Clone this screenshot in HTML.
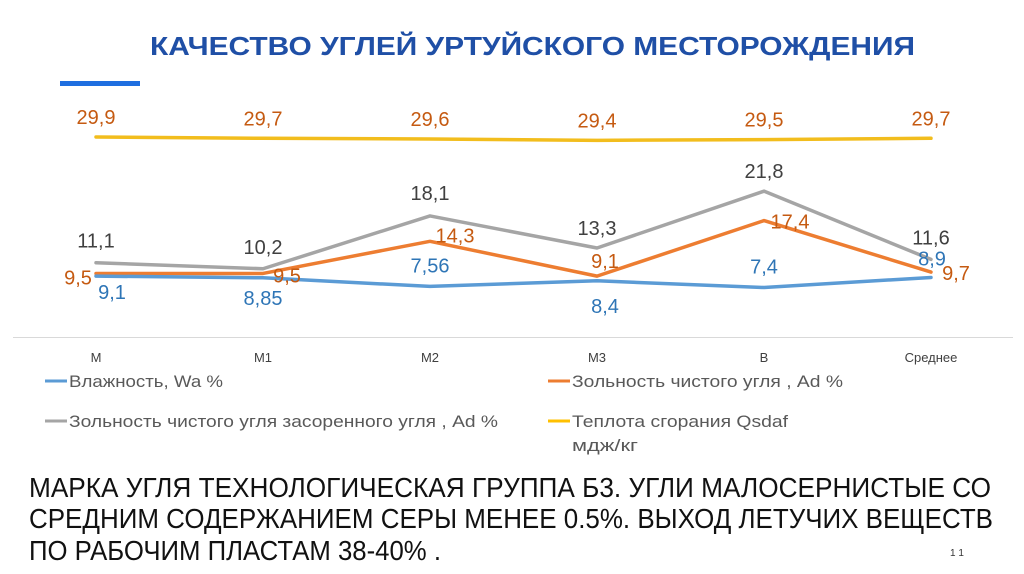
<!DOCTYPE html>
<html><head><meta charset="utf-8"><style>
html,body{margin:0;padding:0;background:#fff;}
svg{display:block;font-family:"Liberation Sans","DejaVu Sans",sans-serif;}
</style></head><body>
<svg id="chart" width="1024" height="574" viewBox="0 0 1024 574">
<text x="150" y="55" font-size="26" font-weight="bold" fill="#1f4fa6" textLength="765" lengthAdjust="spacingAndGlyphs">КАЧЕСТВО УГЛЕЙ УРТУЙСКОГО МЕСТОРОЖДЕНИЯ</text>
<rect x="60" y="81" width="80" height="5" fill="#1f6fe0"/>
<line x1="13" y1="337.5" x2="1013" y2="337.5" stroke="#d9d9d9" stroke-width="1"/>
<g id="series"></g>
<g id="cats"></g>
<g font-size="17" fill="#595959">
 <g><line x1="45" y1="381" x2="67" y2="381" stroke="#5b9bd5" stroke-width="3"/><text x="69" y="387" textLength="154" lengthAdjust="spacingAndGlyphs">Влажность, Wa %</text></g>
 <g><line x1="548" y1="381" x2="570" y2="381" stroke="#ed7d31" stroke-width="3"/><text x="572" y="387" textLength="271" lengthAdjust="spacingAndGlyphs">Зольность чистого угля , Ad %</text></g>
 <g><line x1="45" y1="421" x2="67" y2="421" stroke="#a5a5a5" stroke-width="3"/><text x="69" y="427" textLength="429" lengthAdjust="spacingAndGlyphs">Зольность чистого угля засоренного угля , Ad %</text></g>
 <g><line x1="548" y1="421" x2="570" y2="421" stroke="#ffc000" stroke-width="3"/><text x="572" y="427" textLength="216" lengthAdjust="spacingAndGlyphs">Теплота сгорания Qsdaf</text><text x="572" y="451" textLength="66" lengthAdjust="spacingAndGlyphs">мдж/кг</text></g>
</g>
<g font-size="28" fill="#111">
 <text x="29" y="497" textLength="962" lengthAdjust="spacingAndGlyphs">МАРКА УГЛЯ ТЕХНОЛОГИЧЕСКАЯ ГРУППА Б3. УГЛИ МАЛОСЕРНИСТЫЕ СО</text>
 <text x="29" y="528" textLength="964" lengthAdjust="spacingAndGlyphs">СРЕДНИМ СОДЕРЖАНИЕМ СЕРЫ МЕНЕЕ 0.5%. ВЫХОД ЛЕТУЧИХ ВЕЩЕСТВ</text>
 <text x="29" y="560" textLength="412" lengthAdjust="spacingAndGlyphs">ПО РАБОЧИМ ПЛАСТАМ 38-40% .</text>
</g>
<text x="950" y="556" font-size="10" fill="#333">1 1</text>
</svg>
<script>
const categories = ["М","М1","М2","М3","В","Среднее"];
const moisture = [9.1, 8.85, 7.56, 8.4, 7.4, 8.9];
const ashClean = [9.5, 9.5, 14.3, 9.1, 17.4, 9.7];
const ashClogged = [11.1, 10.2, 18.1, 13.3, 21.8, 11.6];
const heat = [29.9, 29.7, 29.6, 29.4, 29.5, 29.7];
const moistureLabels = ["9,1","8,85","7,56","8,4","7,4","8,9"];
const ashCleanLabels = ["9,5","9,5","14,3","9,1","17,4","9,7"];
const ashCloggedLabels = ["11,1","10,2","18,1","13,3","21,8","11,6"];
const heatLabels = ["29,9","29,7","29,6","29,4","29,5","29,7"];

const NS = "http://www.w3.org/2000/svg";
function xPos(i){ return 96 + i * 167; }
function yPos(v){ return 337 - v * 6.69; }
const g = document.getElementById("series");
const cg = document.getElementById("cats");

categories.forEach((c,i)=>{
  const t = document.createElementNS(NS,"text");
  t.setAttribute("x", xPos(i)); t.setAttribute("y", 362);
  t.setAttribute("text-anchor","middle"); t.setAttribute("font-size","13"); t.setAttribute("fill","#404040");
  t.textContent = c;
  
  
  cg.appendChild(t);
});

const series = [
  {name:"heat", vals:heat, labels:heatLabels, color:"#f2bd1d", tc:"#c55a11", off:[[0,-13],[0,-13],[0,-13],[0,-13],[0,-13],[0,-13]]},
  {name:"ash-clogged", vals:ashClogged, labels:ashCloggedLabels, color:"#a5a5a5", tc:"#404040", off:[[0,-15],[0,-15],[0,-16],[0,-13],[0,-13],[0,-15]]},
  {name:"ash-clean", vals:ashClean, labels:ashCleanLabels, color:"#ed7d31", tc:"#c55a11", off:[[-18,11],[24,9],[25,1],[8,-8],[26,8],[25,8]]},
  {name:"moisture", vals:moisture, labels:moistureLabels, color:"#5b9bd5", tc:"#2e75b6", off:[[16,23],[0,27],[0,-14],[8,32],[0,-14],[1,-12]]}
];
series.forEach(s=>{
  const pl = document.createElementNS(NS,"polyline");
  pl.setAttribute("points", s.vals.map((v,i)=>xPos(i)+","+yPos(v)).join(" "));
  pl.setAttribute("fill","none"); pl.setAttribute("stroke", s.color);
  pl.setAttribute("stroke-width","3.5"); pl.setAttribute("stroke-linejoin","round"); pl.setAttribute("stroke-linecap","round");
  
  
  g.appendChild(pl);
});
series.forEach(s=>{
  s.vals.forEach((v,i)=>{
    const t = document.createElementNS(NS,"text");
    t.setAttribute("x", xPos(i)+s.off[i][0]); t.setAttribute("y", yPos(v)+s.off[i][1]);
    t.setAttribute("text-anchor","middle"); t.setAttribute("font-size","20"); t.setAttribute("fill", s.tc);
    t.textContent = s.labels[i];
    
    
    g.appendChild(t);
  });
});
</script>
</body></html>
